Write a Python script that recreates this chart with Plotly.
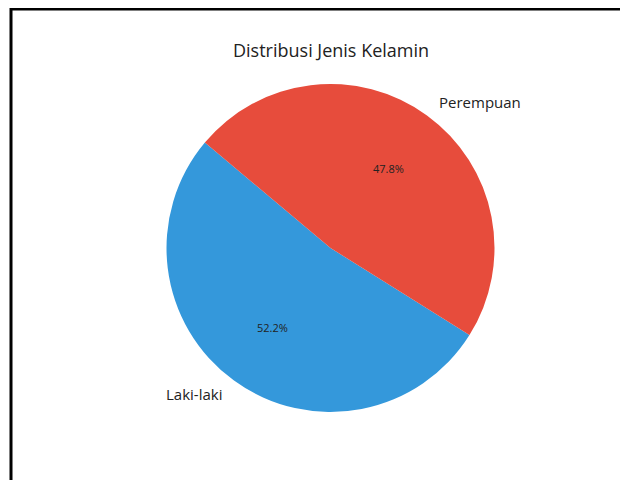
import math
import plotly.graph_objects as go

labels = ["Laki-laki", "Perempuan"]
values = [52.2, 47.8]
colors = ["#3498db", "#e74c3c"]
title = "Distribusi Jenis Kelamin"

W, H = 628, 480
cx, cy, R = 322.5, 240, 164  # pie centre and radius in pixels (figure coords)
start_deg = 140  # matplotlib-style start angle (counterclockwise from 3 o'clock)
FONT = "Open Sans"

total = sum(values)
first_span = values[0] / total * 360

fig = go.Figure()
fig.add_trace(go.Pie(
    labels=labels, values=values, sort=False,
    direction="counterclockwise",
    rotation=(90 - start_deg - first_span) % 360,
    marker=dict(colors=colors, line=dict(width=0)),
    textinfo="none", hoverinfo="label+percent", showlegend=False,
    domain=dict(x=[(cx - R) / W, (cx + R) / W],
                y=[(H - cy - R) / H, (H - cy + R) / H]),
))

ang = start_deg
anns = []
for lab, v in zip(labels, values):
    span = v / total * 360
    mid = math.radians(ang + span / 2)
    ang += span
    c, s = math.cos(mid), math.sin(mid)
    lx, ly = cx + 1.1 * R * c, cy - 1.1 * R * s
    anns.append(dict(x=lx / W, y=1 - ly / H, xref="paper", yref="paper",
                     text=lab, showarrow=False,
                     xanchor="left" if c > 0 else "right", yanchor="middle",
                     font=dict(size=15, color="#222", family=FONT)))
    px_, py_ = cx + 0.6 * R * c, cy - 0.6 * R * s
    anns.append(dict(x=px_ / W, y=1 - py_ / H, xref="paper", yref="paper",
                     text=f"{v / total * 100:.1f}%", showarrow=False,
                     xanchor="center", yanchor="middle",
                     font=dict(size=11, color="#222", family=FONT)))

anns.append(dict(x=cx / W, y=1 - 42 / H, xref="paper", yref="paper",
                 text=title, showarrow=False, xanchor="center", yanchor="middle",
                 font=dict(size=18, color="#222", family=FONT)))

fig.update_layout(
    width=W, height=H, margin=dict(l=0, r=0, t=0, b=0),
    paper_bgcolor="white", plot_bgcolor="white",
    annotations=anns,
    shapes=[dict(type="rect", xref="paper", yref="paper",
                 x0=3 / W, x1=1.05, y0=-0.05, y1=1 - 1 / H,
                 line=dict(color="black", width=3))],
)
fig.write_html("out.html")
